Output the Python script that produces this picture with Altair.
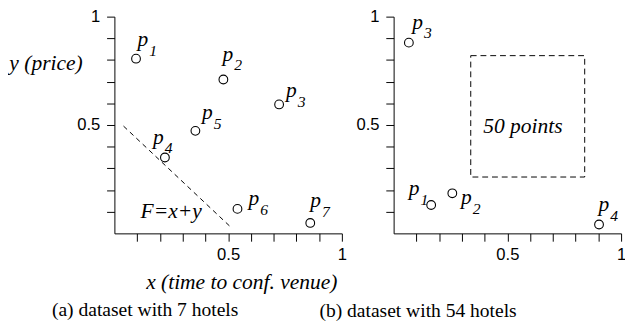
import altair as alt
import pandas as pd

# ---------------- data ----------------
tick_values = [0.1, 0.2, 0.3, 0.4, 0.5, 0.6, 0.7, 0.8, 0.9, 1.0]

# panel (a): 7 hotels
a_names = ["1", "2", "3", "4", "5", "6", "7"]
a_x = [0.095, 0.479, 0.724, 0.222, 0.356, 0.541, 0.861]
a_y = [0.806, 0.710, 0.595, 0.350, 0.473, 0.113, 0.048]
a_label_x = [0.102, 0.475, 0.754, 0.170, 0.385, 0.590, 0.861]
a_label_y = [0.865, 0.797, 0.627, 0.414, 0.527, 0.131, 0.122]
a_line_x = [0.04, 0.518]
a_line_y = [0.495, 0.0225]
a_formula = ["F=x+y"]
a_formula_x = [0.115]
a_formula_y = [0.072]

# panel (b): 54 hotels
b_names = ["1", "2", "3", "4"]
b_x = [0.165, 0.258, 0.067, 0.903]
b_y = [0.131, 0.185, 0.880, 0.041]
b_label_x = [0.067, 0.296, 0.082, 0.901]
b_label_y = [0.176, 0.134, 0.945, 0.104]
b_box_x = [0.339, 0.840]
b_box_y = [0.260, 0.820]
b_box_text = ["50 points"]
b_box_text_x = [0.568]
b_box_text_y = [0.496]

captions = ["(a) dataset with 7 hotels", "(b) dataset with 54 hotels"]

SERIF = "Liberation Serif"
SANS = "Liberation Sans"

label_expr = "datum.value == 0.5 ? '0.5' : (datum.value == 1 ? '1' : '')"


def x_axis(title, **kw):
    return alt.Axis(values=tick_values, labelExpr=label_expr, grid=False,
                    tickSize=8, tickColor="black", domainColor="black",
                    labelFont=SANS, labelFontSize=17, labelColor="black",
                    labelPadding=6, title=title, titleFont=SERIF,
                    titleFontStyle="italic", titleFontWeight="normal",
                    titleFontSize=22, titleColor="black", labelFlush=False,
                    labelOverlap=False, **kw)


def y_axis(title, **kw):
    return alt.Axis(values=tick_values, labelExpr=label_expr, grid=False,
                    tickSize=8, tickColor="black", domainColor="black",
                    labelFont=SANS, labelFontSize=17, labelColor="black",
                    labelPadding=7, title=title, titleFont=SERIF,
                    titleFontStyle="italic", titleFontWeight="normal",
                    titleFontSize=22, titleColor="black", labelFlush=False,
                    labelOverlap=False, **kw)


sc = alt.Scale(domain=[0, 1], nice=False, zero=False)


def panel(names, px, py, lx, ly, xax, yax, extra_layers, caption, cap_dx, cap_offset):
    pts = pd.DataFrame({"n": names, "x": px, "y": py})
    labs = pd.DataFrame({"n": names, "x": lx, "y": ly})
    X = alt.X("x:Q", scale=sc, axis=xax)
    Y = alt.Y("y:Q", scale=sc, axis=yax)
    points = alt.Chart(pts).mark_point(shape="circle", filled=False, color="black",
                                       strokeWidth=1.1, size=80, opacity=1).encode(x=X, y=Y)
    p_text = alt.Chart(labs).mark_text(text="p", font=SERIF, fontStyle="italic", fontSize=22,
                                       align="left", baseline="alphabetic", color="black").encode(x=X, y=Y)
    sub_text = alt.Chart(labs).mark_text(font=SERIF, fontStyle="italic", fontSize=16,
                                         align="left", baseline="alphabetic", dx=12, dy=10,
                                         color="black").encode(x=X, y=Y, text="n:N")
    layers = [points, p_text, sub_text] + [l(X, Y) for l in extra_layers]
    return alt.layer(*layers).properties(
        width=233, height=222,
        title=alt.TitleParams(caption, orient="bottom", anchor="start", frame="group",
                              dx=cap_dx, offset=cap_offset, font=SERIF, fontSize=20,
                              fontWeight="normal", color="black"))


def a_line(X, Y):
    df = pd.DataFrame({"x": a_line_x, "y": a_line_y})
    return alt.Chart(df).mark_line(color="black", strokeWidth=1, strokeDash=[5, 4]).encode(x=X, y=Y)


def a_form(X, Y):
    df = pd.DataFrame({"t": a_formula, "x": a_formula_x, "y": a_formula_y})
    return alt.Chart(df).mark_text(font=SERIF, fontStyle="italic", fontSize=22, align="left",
                                   baseline="alphabetic", color="black").encode(x=X, y=Y, text="t:N")


def b_box(X, Y):
    df = pd.DataFrame({"x": [b_box_x[0]], "x2": [b_box_x[1]], "y": [b_box_y[0]], "y2": [b_box_y[1]]})
    return alt.Chart(df).mark_rect(fillOpacity=0, stroke="black", strokeWidth=1,
                                   strokeDash=[6, 4]).encode(x=X, x2="x2:Q", y=Y, y2="y2:Q")


def b_text(X, Y):
    df = pd.DataFrame({"t": b_box_text, "x": b_box_text_x, "y": b_box_text_y})
    return alt.Chart(df).mark_text(font=SERIF, fontStyle="italic", fontSize=22, align="center",
                                   baseline="middle", color="black").encode(x=X, y=Y, text="t:N")


left = panel(a_names, a_x, a_y, a_label_x, a_label_y,
             x_axis("x (time to conf. venue)", titleX=130, titleY=56, titleAlign="center",
                    titleBaseline="alphabetic"),
             y_axis("y (price)", titleAngle=0, titleX=-33, titleY=54, titleAlign="right",
                    titleBaseline="alphabetic"),
             [a_line, a_form], captions[0], -64, 9)

right = panel(b_names, b_x, b_y, b_label_x, b_label_y,
              x_axis(""), y_axis(""),
              [b_box, b_text], captions[1], -76, 40)

chart = alt.hconcat(left, right, spacing=53, bounds="flush").properties(
    padding={"left": 0, "top": -4, "right": -1, "bottom": 0}
).configure_view(stroke=None)

chart.save("out.html", embed_options={"renderer": "svg", "actions": False})
